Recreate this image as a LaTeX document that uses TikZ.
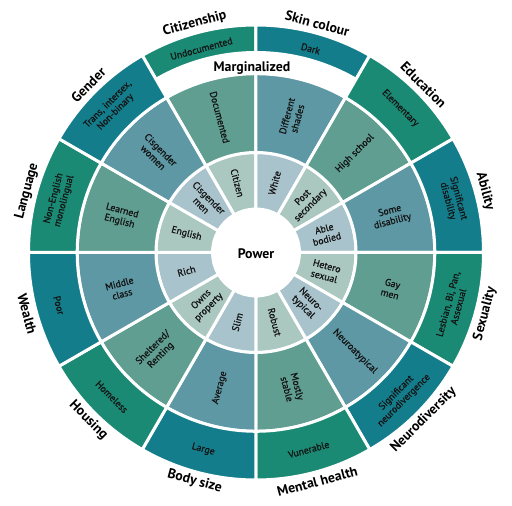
\documentclass[tikz,border=0pt]{standalone}
\usepackage{fontspec}
\setmainfont{PT Sans}
\newfontfamily\cellfont[FakeBold=0.9]{PT Sans}
\definecolor{outG}{HTML}{1A8A74}
\definecolor{outB}{HTML}{137D8C}
\definecolor{midG}{HTML}{5F9E91}
\definecolor{midB}{HTML}{5E98A5}
\definecolor{inG}{HTML}{AAC8C0}
\definecolor{inB}{HTML}{A9C3CD}
\tikzset{
  cellwedge/.style={draw=white, line width=3pt, line join=miter},
  celltext/.style={font=\cellfont\fontsize{9.8}{10.8}\selectfont, align=center, text=black!92, inner sep=0pt},
  cattext/.style={font=\bfseries\fontsize{13.8}{14}\selectfont, text=black, inner sep=0pt},
}
% #1 theta, #2 G/B, #3 outer band inner radius, #4 outer text radius,
% #5 inner text, #6 middle text, #7 outer text, #8 category, #9 name
\newcommand\wheelsector[9]{%
  \pgfmathsetmacro\sa{#1+15}\pgfmathsetmacro\sb{#1-15}%
  \pgfmathsetmacro\tanrot{sin(#1)>0 ? #1-90 : #1+90}%
  \pgfmathsetmacro\radrot{cos(#1)>0 ? #1 : #1+180}%
  \path[cellwedge, fill=in#2] (\sa:43.5pt) arc[start angle=\sa, end angle=\sb, radius=43.5pt]
     -- (\sb:100pt) arc[start angle=\sb, end angle=\sa, radius=100pt] -- cycle;
  \path[cellwedge, fill=mid#2] (\sa:100pt) arc[start angle=\sa, end angle=\sb, radius=100pt]
     -- (\sb:178.8pt) arc[start angle=\sb, end angle=\sa, radius=178.8pt] -- cycle;
  \path[cellwedge, fill=out#2] (\sa:#3) arc[start angle=\sa, end angle=\sb, radius=#3]
     -- (\sb:227.5pt) arc[start angle=\sb, end angle=\sa, radius=227.5pt] -- cycle;
  \node[celltext, rotate=\radrot] (in#9) at (#1:72pt) {#5};
  \node[celltext, rotate=\radrot] (mid#9) at (#1:140pt) {#6};
  \node[celltext, rotate=\tanrot] (out#9) at (#1:#4) {#7};
  \node[cattext, rotate=\tanrot] (cat#9) at (#1:237pt) {#8};
}
\begin{document}
\begin{tikzpicture}
\useasboundingbox (-256pt,-253.5pt) rectangle (256pt,252.5pt);
\wheelsector{105}{G}{200pt}{211pt}{Citizen}{Documented}{Undocumented}{Citizenship}{citi}
\wheelsector{75}{B}{200pt}{211pt}{White}{Different\\shades}{Dark}{Skin colour}{skin}
\wheelsector{45}{G}{178.8pt}{204pt}{Post\\secondary}{High school}{Elementary}{Education}{edu}
\wheelsector{15}{B}{178.8pt}{204pt}{Able\\bodied}{Some\\disability}{Significant\\disability}{Ability}{abil}
\wheelsector{-15}{G}{178.8pt}{204pt}{Hetero\\sexual}{Gay\\men}{Lesbian, Bi, Pan,\\Assexual}{Sexuality}{sex}
\wheelsector{-45}{B}{178.8pt}{204pt}{Neuro-\\typical}{Neuroatypical}{Significant\\neurodivergence}{Neurodiversity}{neuro}
\wheelsector{-75}{G}{178.8pt}{204pt}{Robust}{Mostly\\stable}{Vunerable}{Mental health}{ment}
\wheelsector{-105}{B}{178.8pt}{204pt}{Slim}{Average}{Large}{Body size}{body}
\wheelsector{-135}{G}{178.8pt}{204pt}{Owns\\property}{Sheltered/\\Renting}{Homeless}{Housing}{hous}
\wheelsector{-165}{B}{178.8pt}{204pt}{Rich}{Middle\\class}{Poor}{Wealth}{weal}
\wheelsector{165}{G}{178.8pt}{204pt}{English}{Learned\\English}{Non-English\\monolingual}{Language}{lang}
\wheelsector{135}{B}{178.8pt}{204pt}{Cisgender\\men}{Cisgender\\women}{Trans, intersex,\\Non-binary}{Gender}{gend}
\node[cattext] (marg) at (-4pt,184pt) {Marginalized};
\node[cattext] (power) at (0pt,-1pt) {Power};
\end{tikzpicture}
\end{document}
